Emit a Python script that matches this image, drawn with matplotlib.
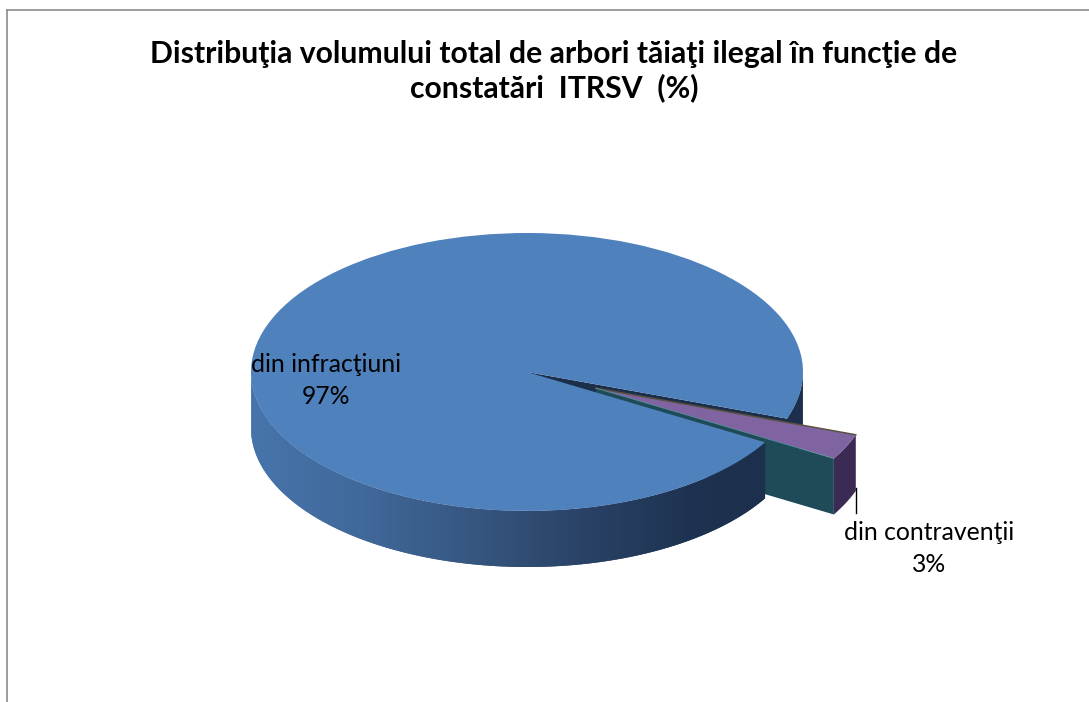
import numpy as np
import matplotlib
matplotlib.use("Agg")
import matplotlib.pyplot as plt
from matplotlib.colors import LinearSegmentedColormap
from matplotlib.lines import Line2D

title = "Distribuţia volumului total de arbori tăiaţi ilegal în funcţie de\nconstatări  ITRSV  (%)"
categories = ["din infracţiuni", "din contravenţii"]
values = [97, 3]
explode = [0, 0.275]
colors = ["#4f81bd", "#8064a2"]

W, H = 1089, 702
CX, CY, RX, RY, DEPTH = 527, 372, 276, 139, 56
START = -19.6
d = DEPTH / RY

plt.rcParams["font.family"] = ["Lato", "DejaVu Sans"]
fig = plt.figure(figsize=(W / 100, H / 100), dpi=100, facecolor="white")
ax = fig.add_axes([0, 0, 1, 1])

wedges, _ = ax.pie(values, explode=explode, colors=colors, startangle=START,
                   radius=1, wedgeprops={"linewidth": 0}, frame=False)
ax.set_aspect("auto")
ax.set_xlim(-CX / RX, (W - CX) / RX)
ax.set_ylim((CY - H) / RY, CY / RY)
ax.set_axis_off()
wedges[0].set_zorder(10)
wedges[1].set_zorder(6)

shade = LinearSegmentedColormap.from_list(
    "wall", ["#4674ab", "#40689a", "#365680", "#2a4266", "#1d3250", "#1c2f4c"])


def wall(a0, a1, z):
    # painted in order with each strip running under the next, so no seams show
    angs = np.radians(np.linspace(a0, a1, int(abs(a1 - a0)) + 2))
    n = len(angs) - 1
    for i in range(n):
        sub = np.linspace(angs[i], angs[min(i + 2, n)], 6)
        c = shade((np.cos((angs[i] + angs[i + 1]) / 2) + 1) / 2)
        ax.fill(np.r_[np.cos(sub), np.cos(sub[::-1])],
                np.r_[np.sin(sub), np.sin(sub[::-1]) - d],
                color=c, linewidth=0, zorder=z)


fractions = np.array(values) / sum(values)
small_a1 = START
small_a0 = START - 360 * fractions[1]
mid = np.radians((small_a0 + small_a1) / 2)
ex, ey = explode[1] * np.cos(mid), explode[1] * np.sin(mid)

# body of the large slice: part hidden behind and part in front of the small slice
wall(small_a1, 0, 1)
wall(180, 360 + small_a0, 7)
t = np.radians(small_a1)
ax.fill([0, np.cos(t), np.cos(t), 0], [0, np.sin(t), np.sin(t) - d, -d],
        color="#1b2e4a", linewidth=0, zorder=2)

# small slice faces
t0, t1 = np.radians(small_a0), np.radians(small_a1)
ax.fill([ex, ex + np.cos(t0), ex + np.cos(t0), ex],
        [ey, ey + np.sin(t0), ey + np.sin(t0) - d, ey - d],
        color="#1f4a57", linewidth=0, zorder=4)
arc = np.linspace(t0, t1, 20)
ax.fill(np.r_[ex + np.cos(arc), ex + np.cos(arc[::-1])],
        np.r_[ey + np.sin(arc), ey + np.sin(arc[::-1]) - d],
        color="#3a2a54", linewidth=0, zorder=5)
ax.plot([ex, ex + np.cos(t1)], [ey, ey + np.sin(t1)],
        color="#5a5240", linewidth=1.1, zorder=7)
ax.plot([ex, ex + np.cos(t0)], [ey, ey + np.sin(t0)],
        color="#4f9a9e", linewidth=0.5, zorder=7)

# leader line
lx = ex + np.cos(t1)
ax.plot([lx, lx], [(CY - 488) / RY, (CY - 513) / RY], color="black", linewidth=1.0, zorder=5)

# labels
ax.text((326 - CX) / RX, (CY - 364) / RY, categories[0], ha="center", va="center",
        fontsize=17.8, color="black", zorder=12)
ax.text((326 - CX) / RX, (CY - 396) / RY, f"{values[0]}%", ha="center", va="center",
        fontsize=17.8, color="black", zorder=12)
ax.text((929 - CX) / RX, (CY - 532) / RY, categories[1], ha="center", va="center",
        fontsize=17.8, color="black", zorder=12)
ax.text((929 - CX) / RX, (CY - 564) / RY, f"{values[1]}%", ha="center", va="center",
        fontsize=17.8, color="black", zorder=12)

# title
fig.text(554 / W, 1 - 71 / H, title, ha="center", va="center", fontsize=21.7,
         fontweight="bold", color="black", linespacing=1.2)

# chart frame (top and left only are in view)
fig.add_artist(Line2D([7 / W, 7 / W], [0, 1 - 10 / H], color="#8c8c8c", linewidth=1.2))
fig.add_artist(Line2D([7 / W, 1], [1 - 10 / H, 1 - 10 / H], color="#8c8c8c", linewidth=1.2))

fig.savefig("out.png", dpi=100)
